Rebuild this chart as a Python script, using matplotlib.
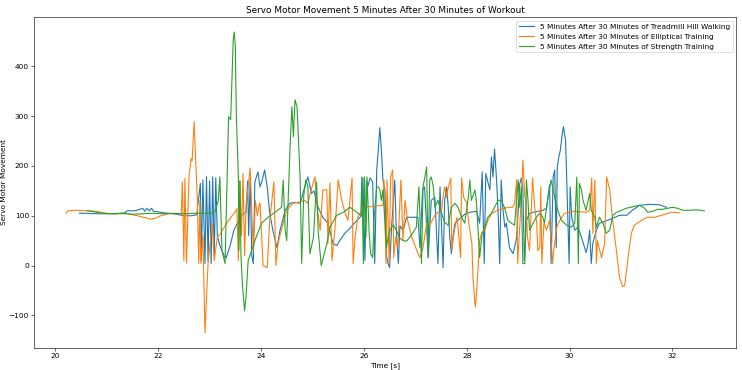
import matplotlib
matplotlib.use("Agg")
import matplotlib.pyplot as plt

# ==============================
# DATA
# ==============================

labels = [
    "5 Minutes After 30 Minutes of Treadmill Hill Walking",
    "5 Minutes After 30 Minutes of Elliptical Training",
    "5 Minutes After 30 Minutes of Strength Training",
]

# treadmill hill walking
t_walk = [20.47, 20.60, 20.80, 21.00, 21.20, 21.35, 21.40, 21.55, 21.70, 21.74,
          21.78, 21.83, 21.87, 21.91, 22.00, 22.10, 22.30, 22.50, 22.65, 22.75,
          22.82, 22.84, 22.87, 22.91, 22.94, 22.97, 23.00, 23.03, 23.06, 23.09,
          23.12, 23.15, 23.20, 23.28, 23.32, 23.40, 23.47, 23.55, 23.62, 23.67,
          23.71, 23.74, 23.76, 23.79, 23.82, 23.85, 23.88, 23.94, 23.98, 24.02,
          24.07, 24.12, 24.17, 24.23, 24.31, 24.37, 24.47, 24.56, 24.66, 24.76,
          24.85, 24.91, 24.98, 25.03, 25.11, 25.20, 25.30, 25.40, 25.47, 25.53,
          25.63, 25.73, 25.83, 25.96, 25.98, 26.02, 26.05, 26.08, 26.12, 26.17,
          26.21, 26.25, 26.28, 26.31, 26.34, 26.37, 26.41, 26.44, 26.47, 26.50,
          26.54, 26.60, 26.63, 26.67, 26.70, 26.76, 26.83, 27.05, 27.09, 27.14,
          27.18, 27.25, 27.31, 27.38, 27.44, 27.48, 27.54, 27.57, 27.61, 27.64,
          27.67, 27.70, 27.73, 27.77, 27.83, 27.90, 27.96, 28.06, 28.19, 28.25,
          28.30, 28.34, 28.37, 28.40, 28.45, 28.48, 28.51, 28.54, 28.58, 28.61,
          28.64, 28.67, 28.70, 28.74, 28.77, 28.83, 28.90, 28.93, 28.97, 29.03,
          29.06, 29.09, 29.12, 29.16, 29.22, 29.29, 29.38, 29.48, 29.55, 29.61,
          29.64, 29.68, 29.71, 29.74, 29.76, 29.79, 29.82, 29.86, 29.88, 29.92,
          29.94, 29.97, 29.99, 30.01, 30.04, 30.10, 30.16, 30.23, 30.29, 30.32,
          30.36, 30.39, 30.42, 30.45, 30.52, 30.58, 30.65, 30.74, 30.84, 30.97,
          31.11, 31.22, 31.36, 31.55, 31.75, 31.88]
y_walk = [105, 105, 104, 104, 104, 106, 110, 110, 115, 109,
          115, 110, 115, 109, 108, 106, 104, 100, 100, 102,
          165, 10, 172, 4, 178, 8, 170, 4, 178, 20,
          176, 60, 40, 20, 15, 40, 70, 87, 100, 105,
          107, 170, 60, 178, 20, 4, 168, 188, 158, 170,
          192, 158, 105, 71, 36, 71, 111, 125, 127, 125,
          158, 178, 145, 150, 117, 97, 85, 44, 40, 50,
          65, 75, 87, 101, 176, 10, 170, 160, 176, 168,
          4, 192, 232, 277, 232, 172, 150, 20, 4, -4,
          80, 172, 70, 4, 80, 70, 97, 97, 36, 152,
          158, 16, 131, 137, 4, 158, -4, 131, 158, 117,
          57, 24, 57, 85, 91, 97, 103, 107, 109, 85,
          188, 4, 185, 172, 152, 218, 178, 234, 172, 105,
          4, 172, 117, 77, 85, 36, 24, 36, 57, 164,
          176, 158, 10, 90, 105, 107, 109, 111, 115, 162,
          4, 178, 192, 36, 198, 218, 232, 267, 279, 252,
          186, 77, 4, 158, 97, 71, 77, 57, 36, 26,
          44, 71, 4, 44, 71, 85, 87, 91, 95, 101,
          101, 111, 121, 123, 122, 117]

# elliptical training
t_ellip = [20.21, 20.25, 20.40, 20.55, 20.70, 20.85, 21.00, 21.20, 21.40, 21.60,
           21.75, 21.85, 21.95, 22.05, 22.20, 22.40, 22.45, 22.47, 22.50, 22.52,
           22.55, 22.60, 22.64, 22.66, 22.70, 22.73, 22.76, 22.79, 22.81, 22.83,
           22.87, 22.91, 22.97, 23.05, 23.09, 23.15, 23.20, 23.30, 23.40, 23.50,
           23.53, 23.56, 23.59, 23.62, 23.65, 23.68, 23.71, 23.75, 23.79, 23.82,
           23.85, 23.89, 23.93, 23.97, 23.98, 24.04, 24.12, 24.17, 24.25, 24.29,
           24.33, 24.43, 24.50, 24.62, 24.76, 24.85, 24.91, 24.99, 25.05, 25.09,
           25.15, 25.20, 25.28, 25.30, 25.34, 25.38, 25.44, 25.50, 25.57, 25.63,
           25.69, 25.77, 25.79, 25.83, 25.88, 25.96, 26.00, 26.19, 26.37, 26.39,
           26.43, 26.45, 26.49, 26.52, 26.56, 26.58, 26.62, 26.66, 26.72, 26.76,
           26.80, 26.85, 26.93, 27.03, 27.09, 27.15, 27.22, 27.28, 27.38, 27.44,
           27.51, 27.53, 27.57, 27.61, 27.63, 27.69, 27.71, 27.75, 27.81, 27.83,
           27.88, 27.90, 27.94, 28.00, 28.04, 28.10, 28.12, 28.16, 28.17, 28.21,
           28.25, 28.29, 28.35, 28.41, 28.49, 28.60, 28.80, 28.89, 28.93, 28.97,
           28.99, 29.07, 29.09, 29.13, 29.15, 29.18, 29.22, 29.26, 29.28, 29.32,
           29.36, 29.38, 29.42, 29.44, 29.46, 29.50, 29.55, 29.61, 29.67, 29.69,
           29.75, 29.81, 29.90, 30.06, 30.33, 30.39, 30.43, 30.45, 30.49, 30.52,
           30.54, 30.62, 30.68, 30.72, 30.78, 30.83, 30.91, 30.97, 31.03, 31.07,
           31.13, 31.20, 31.26, 31.40, 31.51, 31.65, 31.79, 31.88, 31.98, 32.14]
y_ellip = [105, 110, 111, 110, 110, 108, 105, 104, 104, 100,
           96, 93, 95, 100, 104, 104, 104, 168, 10, 175,
           5, 180, 215, 210, 289, 210, 137, 4, 130, 4,
           60, -135, 4, 85, 10, 57, 62, 80, 95, 108,
           115, 10, 170, 60, 185, 20, 120, 160, 196, 105,
           30, 130, 100, 125, 125, 0, -4, 91, 168, 0,
           44, 85, 111, 125, 128, 131, 125, 158, 178, 117,
           71, 152, 152, 44, 166, 10, 77, 172, 131, 107,
           91, 176, 4, 57, 97, 111, 117, 119, 121, 172,
           4, 172, 4, 178, 192, 16, 57, 36, 172, 50,
           131, 91, 57, 30, 16, 36, 85, 81, 101, 107,
           111, 131, 158, 137, 152, 176, 30, 65, 97, 77,
           16, 176, 137, 125, 85, 44, -24, -77, -83, -24,
           50, 65, 71, 91, 105, 111, 117, 117, 125, 172,
           4, 152, 212, 137, 131, 57, 30, 125, 176, 117,
           85, 30, 36, 158, 4, 85, 71, 91, 4, 30,
           77, 91, 105, 109, 107, 111, 176, 65, 172, 4,
           50, 16, 44, 178, 152, 97, 30, -24, -42, -40,
           10, 65, 81, 91, 97, 97, 101, 104, 107, 106]

# strength training
t_str = [20.62, 20.75, 20.90, 21.10, 21.30, 21.50, 21.70, 21.90, 22.10, 22.30,
         22.50, 22.70, 22.90, 23.03, 23.11, 23.17, 23.20, 23.24, 23.30, 23.37,
         23.41, 23.46, 23.48, 23.50, 23.52, 23.56, 23.57, 23.59, 23.61, 23.64,
         23.68, 23.71, 23.75, 23.85, 23.88, 24.01, 24.14, 24.27, 24.40, 24.43,
         24.47, 24.50, 24.56, 24.60, 24.63, 24.66, 24.70, 24.76, 24.79, 24.83,
         24.87, 24.91, 24.95, 25.02, 25.08, 25.11, 25.17, 25.28, 25.34, 25.47,
         25.60, 25.73, 25.86, 25.94, 25.96, 25.99, 26.01, 26.04, 26.06, 26.10,
         26.13, 26.17, 26.20, 26.25, 26.28, 26.31, 26.34, 26.37, 26.41, 26.44,
         26.47, 26.50, 26.57, 26.63, 26.70, 26.76, 26.83, 26.93, 27.02, 27.07,
         27.12, 27.15, 27.22, 27.25, 27.28, 27.31, 27.35, 27.38, 27.44, 27.51,
         27.57, 27.64, 27.70, 27.77, 27.83, 27.90, 27.96, 28.03, 28.06, 28.09,
         28.16, 28.19, 28.22, 28.25, 28.30, 28.35, 28.41, 28.48, 28.54, 28.61,
         28.67, 28.74, 28.80, 28.87, 28.93, 29.00, 29.03, 29.06, 29.09, 29.13,
         29.16, 29.19, 29.22, 29.29, 29.35, 29.42, 29.48, 29.51, 29.58, 29.64,
         29.71, 29.77, 29.84, 29.94, 30.03, 30.10, 30.14, 30.17, 30.19, 30.23,
         30.26, 30.32, 30.39, 30.42, 30.49, 30.52, 30.58, 30.65, 30.71, 30.78,
         30.84, 30.91, 30.97, 31.10, 31.23, 31.36, 31.46, 31.52, 31.62, 31.71,
         31.81, 31.90, 32.01, 32.10, 32.20, 32.33, 32.46, 32.62]
y_str = [110, 108, 105, 104, 105, 103, 104, 105, 104, 105,
         104, 105, 105, 105, 110, 131, 178, 30, 4, 299,
         293, 455, 469, 440, 300, 178, 30, 170, 20, -40,
         -91, -60, 10, 40, 50, 85, 97, 107, 117, 172,
         71, 50, 226, 319, 259, 333, 319, 178, 4, 140,
         172, 160, 24, 57, 168, 71, 0, 44, 77, 101,
         107, 117, 107, 101, 178, 4, 178, 57, 178, 71,
         24, 16, 97, 158, 158, 152, 131, 152, 85, 36,
         57, 71, 81, 71, 55, 50, 49, 62, 77, 158,
         4, 158, 198, 16, 172, 178, 158, 117, 131, 105,
         87, 81, 117, 125, 117, 97, 85, 137, 172, 131,
         152, 125, 71, 16, 65, 77, 97, 105, 117, 131,
         131, 115, 91, 85, 81, 172, 117, 158, 4, 4,
         172, 131, 71, 85, 97, 105, 97, 85, 137, 172,
         137, 111, 91, 81, 77, 85, 178, 4, 165, 152,
         131, 111, 145, 111, 97, 77, 97, 85, 65, 71,
         101, 107, 109, 115, 118, 121, 115, 107, 109, 113,
         113, 115, 117, 115, 111, 111, 112, 110]

series = [(t_walk, y_walk), (t_ellip, y_ellip), (t_str, y_str)]

# ==============================
# PLOTTING
# ==============================

fig, ax = plt.subplots(figsize=(14, 6.972), dpi=53.07)

for (t, y), lab in zip(series, labels):
    ax.plot(t, y, label=lab)

ax.set_title("Servo Motor Movement 5 Minutes After 30 Minutes of Workout")
ax.set_xlabel("Time [s]")
ax.set_ylabel("Servo Motor Movement", labelpad=2)
ax.legend(loc="upper right")

fig.subplots_adjust(left=0.046, right=0.991, bottom=0.06, top=0.954)
fig.savefig("out.png")
